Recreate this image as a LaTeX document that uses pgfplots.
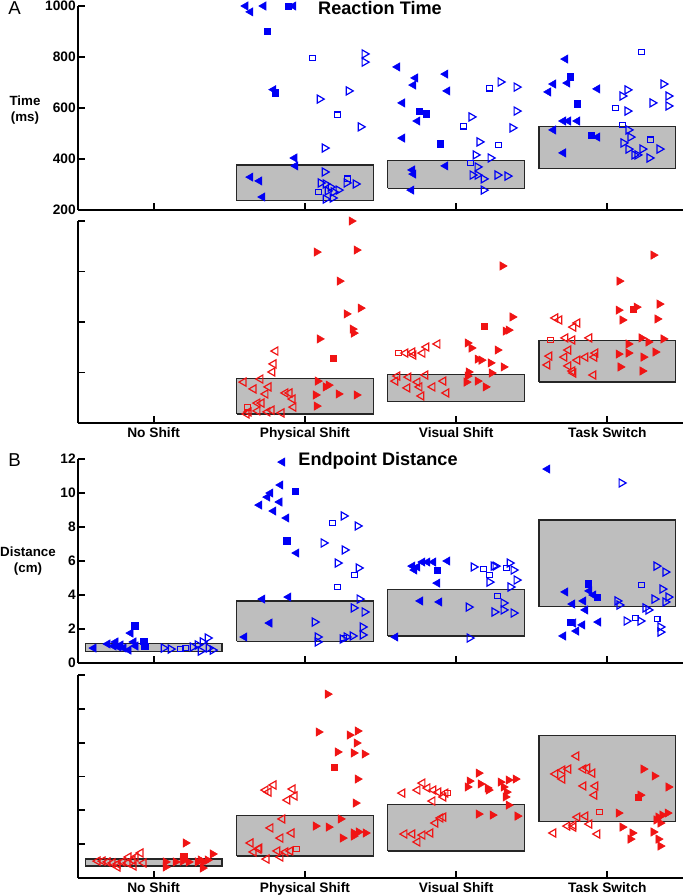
\documentclass[border=0pt]{standalone}
\usepackage{fontspec}
\setmainfont{Liberation Sans}
\usepackage{pgfplots}
\pgfplotsset{compat=1.18}
\definecolor{boxgray}{RGB}{190,190,190}
\definecolor{pblue}{RGB}{0,0,245}
\definecolor{pred}{RGB}{240,20,20}
\pgfplotsset{
  base/.style={scale only axis, width=453.75pt, xmin=-0.5, xmax=3.5, axis lines=left,
    axis line style={-, line width=1.5pt, black}, tick align=inside, major tick length=5pt,
    tick style={line width=1.4pt, black}, xtick={0,1,2,3}, clip=false,
    tick label style={font=\bfseries\fontsize{10.3}{12}\selectfont},
    yticklabel style={inner sep=1.5pt},
    anchor=south west, xticklabels={}},
  rt/.style={ymin=200, ymax=1000, ytick={200,400,600,800,1000}},
  ed/.style={ymin=0, ymax=12, ytick={0,2,4,6,8,10,12}},
  catlabels/.style={xticklabels={No Shift,Physical Shift,Visual Shift,Task Switch}},
  gbox/.style={fill=boxgray, draw=black!85, line width=1pt, mark=none},
  lfill/.style={only marks, color=#1, mark=triangle*, mark size=3.6pt, mark options={rotate=90, fill=#1, draw=#1}},
  rfill/.style={only marks, color=#1, mark=triangle*, mark size=3.6pt, mark options={rotate=-90, fill=#1, draw=#1}},
  lopen/.style={only marks, color=#1, mark=triangle, mark size=3.5pt, mark options={rotate=90, draw=#1, line width=0.9pt}},
  ropen/.style={only marks, color=#1, mark=triangle, mark size=3.5pt, mark options={rotate=-90, draw=#1, line width=0.9pt}},
  sfill/.style={only marks, color=#1, mark=square*, mark size=2.4pt, mark options={fill=#1, draw=#1}},
  sopen/.style={only marks, color=#1, mark=square, mark size=2.1pt, mark options={draw=#1, line width=0.9pt}},
}
\begin{document}
\begin{tikzpicture}
\useasboundingbox (0,0) rectangle (513.75pt,-672pt);
% ---------------- A blue ----------------
\begin{axis}[base, rt, at={(58.5pt,-157.5pt)}, height=153pt, yticklabels={200,400,600,800,1000}]
\addplot[gbox] coordinates {(0.548,236)(1.452,236)(1.452,376)(0.548,376)(0.548,236)};
\addplot[gbox] coordinates {(1.548,285)(2.452,285)(2.452,393)(1.548,393)(1.548,285)};
\addplot[gbox] coordinates {(2.548,362)(3.452,362)(3.452,527)(2.548,527)(2.548,362)};
\addplot[lfill=pblue] coordinates {(0.608,1000)(0.641,977)(0.727,1000)(0.925,1000)(0.793,672)(0.932,404)(0.938,373)(0.641,329)(0.700,314)(0.720,251)
(1.612,761)(1.731,718)(1.718,690)(1.930,733)(1.943,667)(1.645,620)(1.745,549)(1.645,482)(1.711,357)(1.718,341)(1.930,373)(1.705,278)
(2.723,792)(2.643,694)(2.610,663)(2.736,698)(2.934,675)(2.709,549)(2.742,549)(2.802,549)(2.643,514)(2.934,486)(2.709,424)};
\addplot[sfill=pblue] coordinates {(0.892,1000)(0.753,902)(0.806,659)(1.758,588)(1.804,577)(1.897,459)(2.756,722)(2.802,616)(2.894,494)};
\addplot[ropen=pblue] coordinates {(1.394,812)(1.394,780)(1.289,667)(1.097,635)(1.368,526)(1.130,443)(1.130,349)(1.104,306)(1.137,302)(1.170,290)(1.222,278)(1.275,306)(1.335,302)(1.150,275)(1.189,271)(1.137,243)(1.183,247)
(2.293,702)(2.399,682)(2.101,565)(2.399,588)(2.372,522)(2.154,467)(2.128,416)(2.227,404)(2.141,369)(2.108,337)(2.141,337)(2.181,322)(2.273,337)(2.339,333)(2.181,278)
(3.132,671)(3.099,647)(3.132,588)(3.370,694)(3.403,647)(3.403,608)(3.297,620)(3.139,514)(3.152,486)(3.106,463)(3.139,439)(3.231,439)(3.178,416)(3.198,416)(3.344,439)(3.278,404)};
\addplot[sopen=pblue] coordinates {(1.051,796)(1.216,573)(1.090,271)(1.282,322)(2.220,678)(2.048,529)(2.280,455)(2.095,384)(3.225,820)(3.053,600)(3.099,533)(3.284,475)};
\end{axis}
% ---------------- A red ----------------
\begin{axis}[base, rt, catlabels, at={(58.5pt,-317.25pt)}, height=151.5pt, yticklabels={}]
\addplot[gbox] coordinates {(0.548,236)(1.452,236)(1.452,376)(0.548,376)(0.548,236)};
\addplot[gbox] coordinates {(1.548,285)(2.452,285)(2.452,393)(1.548,393)(1.548,285)};
\addplot[gbox] coordinates {(2.548,362)(3.452,362)(3.452,527)(2.548,527)(2.548,362)};
\addplot[lopen=pred] coordinates {(0.806,485)(0.793,434)(0.786,402)(0.595,362)(0.707,374)(0.661,335)(0.760,343)(0.740,315)(0.872,319)(0.899,319)(0.919,295)(0.925,263)(0.687,279)(0.714,279)(0.628,244)(0.615,236)(0.687,248)(0.753,244)(0.780,251)(0.846,240)
(1.665,477)(1.711,481)(1.718,469)(1.778,477)(1.804,501)(1.877,513)(1.612,386)(1.599,366)(1.685,382)(1.678,339)(1.745,362)(1.758,343)(1.771,307)(1.797,390)(1.844,343)(1.936,319)(1.916,366)
(2.656,616)(2.683,608)(2.802,596)(2.775,580)(2.723,537)(2.769,529)(2.881,537)(2.742,489)(2.617,465)(2.716,461)(2.802,449)(2.855,461)(2.921,477)(2.914,461)(2.604,430)(2.742,426)(2.769,406)(2.775,398)(2.908,390)};
\addplot[sopen=pred] coordinates {(0.621,263)(1.619,477)(2.623,529)};
\addplot[rfill=pred] coordinates {(1.308,1000)(1.077,877)(1.341,885)(1.229,762)(1.368,655)(1.275,632)(1.315,572)(1.322,556)(1.097,533)(1.084,366)(1.137,343)(1.156,350)(1.222,315)(1.341,311)(1.071,311)(1.077,267)
(2.306,822)(2.372,620)(2.326,564)(2.346,568)(2.075,517)(2.101,497)(2.273,489)(2.141,453)(2.167,449)(2.227,438)(2.234,398)(2.313,422)(2.082,402)(2.075,386)(2.068,362)(2.141,366)(2.194,343)
(3.304,865)(3.079,762)(3.073,647)(3.099,608)(3.192,659)(3.344,671)(3.330,612)(3.225,537)(3.271,521)(3.370,533)(3.139,513)(3.317,481)(3.073,473)(3.139,477)(3.238,461)(3.086,422)(3.231,406)};
\addplot[sfill=pred] coordinates {(1.189,457)(2.187,584)(3.172,651)};
\end{axis}
% ---------------- B blue ----------------
\begin{axis}[base, ed, at={(58.5pt,-497.25pt)}, height=153pt, yticklabels={0,2,4,6,8,10,12}]
\addplot[gbox] coordinates {(-0.452,0.67)(0.452,0.67)(0.452,1.16)(-0.452,1.16)(-0.452,0.67)};
\addplot[gbox] coordinates {(0.548,1.27)(1.452,1.27)(1.452,3.65)(0.548,3.65)(0.548,1.27)};
\addplot[gbox] coordinates {(1.548,1.59)(2.452,1.59)(2.452,4.31)(1.548,4.31)(1.548,1.59)};
\addplot[gbox] coordinates {(2.548,3.31)(3.452,3.31)(3.452,8.41)(2.548,8.41)(2.548,3.31)};
\addplot[lfill=pblue] coordinates {(-0.396,0.88)(-0.304,1.12)(-0.264,1.0)(-0.231,0.94)(-0.198,0.88)(-0.152,1.76)(-0.132,1.24)(-0.165,0.76)(-0.119,1.0)(-0.251,1.24)(-0.218,1.06)
(0.852,11.82)(0.839,10.47)(0.773,10.0)(0.753,9.76)(0.833,9.47)(0.700,9.29)(0.793,8.94)(0.879,8.53)(0.945,6.47)(0.720,3.76)(0.892,3.88)(0.767,2.35)(0.601,1.53)
(1.711,5.7)(1.745,5.65)(1.778,5.94)(1.811,5.94)(1.850,5.94)(1.943,6.0)(1.725,5.47)(1.877,4.7)(1.764,3.65)(1.890,3.59)(1.599,1.53)
(2.604,11.41)(2.723,4.18)(2.881,4.24)(2.908,4.0)(2.842,3.65)(2.769,3.47)(2.855,3.12)(2.775,2.35)(2.795,1.88)(2.835,2.24)(2.941,2.41)(2.709,1.59)};
\addplot[sfill=pblue] coordinates {(-0.126,2.18)(-0.066,1.29)(-0.059,1.0)(0.938,10.12)(0.879,7.18)(1.877,5.47)(2.874,4.65)(2.934,3.88)(2.756,2.41)};
\addplot[ropen=pblue] coordinates {(0.066,0.88)(0.112,0.82)(0.258,0.94)(0.291,1.06)(0.311,0.7)(0.357,1.47)(0.363,0.88)(0.390,0.76)(0.324,1.24)
(1.256,8.65)(1.348,8.06)(1.123,7.06)(1.262,6.65)(1.216,5.88)(1.355,5.59)(1.361,3.76)(1.322,3.24)(1.394,3.0)(1.064,2.41)(1.381,2.12)(1.381,1.65)(1.084,1.53)(1.084,1.24)(1.275,1.53)(1.315,1.59)(1.249,1.41)
(2.115,5.65)(2.247,5.7)(2.260,5.7)(2.353,5.88)(2.379,5.47)(2.220,4.76)(2.399,4.88)(2.359,4.47)(2.082,3.29)(2.313,3.53)(2.313,3.12)(2.253,3.0)(2.379,2.94)(2.088,1.47)
(3.093,10.59)(3.324,5.7)(3.383,5.35)(3.363,4.35)(3.311,3.76)(3.403,3.88)(3.383,3.59)(3.066,3.65)(3.079,3.41)(3.251,3.24)(3.271,3.12)(3.126,2.47)(3.218,2.47)(3.350,2.12)(3.350,1.82)};
\addplot[sopen=pblue] coordinates {(0.178,0.82)(0.211,0.88)(1.183,8.24)(1.328,5.18)(1.216,4.47)(1.256,1.47)(2.181,5.53)(2.333,5.59)(2.220,5.18)(2.273,3.94)(3.225,4.59)(3.185,2.65)(3.330,2.59)};
\end{axis}
% ---------------- B red ----------------
\begin{axis}[base, ed, catlabels, at={(58.5pt,-658.5pt)}, height=152.25pt, yticklabels={}]
\addplot[gbox] coordinates {(-0.452,0.71)(0.452,0.71)(0.452,1.12)(-0.452,1.12)(-0.452,0.71)};
\addplot[gbox] coordinates {(0.548,1.3)(1.452,1.3)(1.452,3.68)(0.548,3.68)(0.548,1.3)};
\addplot[gbox] coordinates {(1.548,1.6)(2.452,1.6)(2.452,4.36)(1.548,4.36)(1.548,1.6)};
\addplot[gbox] coordinates {(2.548,3.33)(3.452,3.33)(3.452,8.41)(2.548,8.41)(2.548,3.33)};
\addplot[lopen=pred] coordinates {(-0.370,1.0)(-0.337,1.0)(-0.304,0.95)(-0.271,0.89)(-0.238,0.83)(-0.205,0.95)(-0.172,0.89)(-0.139,1.06)(-0.119,1.24)(-0.086,1.48)(-0.165,1.24)(-0.238,0.65)(-0.132,0.71)(-0.066,0.89)
(0.740,5.2)(0.760,5.08)(0.793,5.5)(0.919,5.26)(0.932,4.85)(0.885,4.61)(0.852,3.49)(0.773,2.96)(0.912,2.66)(0.839,2.36)(0.641,2.07)(0.700,1.77)(0.661,1.54)(0.819,1.6)(0.872,1.54)(0.905,1.6)(0.839,1.24)(0.747,1.12)(0.694,1.71)
(1.645,5.02)(1.745,5.2)(1.778,5.61)(1.811,5.32)(1.850,5.2)(1.883,5.08)(1.930,5.02)(1.844,4.55)(1.916,3.6)(1.897,3.55)(1.863,3.25)(1.659,2.6)(1.711,2.6)(1.778,2.54)(1.745,2.13)(1.830,2.66)(1.916,4.79)
(2.795,7.21)(2.656,6.15)(2.703,6.38)(2.742,6.44)(2.703,5.85)(2.842,6.44)(2.868,6.5)(2.901,6.2)(2.842,5.44)(2.921,5.44)(2.914,4.9)(2.802,3.6)(2.855,3.66)(2.736,3.07)(2.775,3.13)(2.775,3.01)(2.881,3.19)(2.643,2.66)(2.934,2.6)};
\addplot[sopen=pred] coordinates {(0.945,1.71)(1.943,5.02)(2.947,3.9)};
\addplot[rfill=pred] coordinates {(0.079,0.95)(0.079,0.65)(0.145,0.95)(0.192,1.0)(0.211,2.07)(0.231,0.95)(0.291,0.95)(0.311,1.06)(0.330,0.95)(0.324,0.59)(0.390,1.42)(0.357,1.06)
(1.150,10.87)(1.090,8.63)(1.295,8.45)(1.348,8.69)(1.341,7.98)(1.216,7.45)(1.322,7.39)(1.394,7.33)(1.348,5.85)(1.335,4.43)(1.236,3.49)(1.071,3.07)(1.156,3.01)(1.249,2.36)(1.322,2.66)(1.355,2.72)(1.401,2.66)(1.322,2.48)
(2.148,6.2)(2.088,5.73)(2.075,5.38)(2.161,5.56)(2.207,5.32)(2.214,5.2)(2.293,5.67)(2.346,5.79)(2.392,5.85)(2.313,5.38)(2.333,5.08)(2.326,4.79)(2.346,4.31)(2.148,3.78)(2.240,3.72)(2.405,3.66)
(3.238,6.44)(3.311,6.03)(3.403,5.38)(3.218,4.9)(3.073,3.84)(3.337,3.6)(3.363,3.72)(3.397,3.84)(3.324,3.43)(3.350,3.25)(3.099,3.01)(3.165,2.66)(3.152,2.3)(3.304,2.72)(3.337,2.3)(3.350,1.89)};
\addplot[sfill=pred] coordinates {(0.198,1.3)(1.196,6.56)(3.205,4.79)};
\end{axis}
% ---------------- texts ----------------
\node[anchor=base west, inner sep=0pt, font=\fontsize{14}{16}\selectfont] at (6pt,-11pt) {A};
\node[anchor=base, inner sep=0pt, font=\bfseries\fontsize{13.6}{16}\selectfont] at (285pt,-10.5pt) {Reaction Time};
\node[align=center, inner sep=0pt, font=\bfseries\fontsize{10}{12}\selectfont] at (18.75pt,-82.5pt) {Time\\(ms)};
\node[anchor=base west, inner sep=0pt, font=\fontsize{14}{16}\selectfont] at (6pt,-349.5pt) {B};
\node[anchor=base, inner sep=0pt, font=\bfseries\fontsize{13.6}{16}\selectfont] at (283.5pt,-348.75pt) {Endpoint Distance};
\node[align=center, inner sep=0pt, font=\bfseries\fontsize{10}{12}\selectfont] at (21pt,-420.75pt) {Distance\\(cm)};
\end{tikzpicture}
\end{document}
